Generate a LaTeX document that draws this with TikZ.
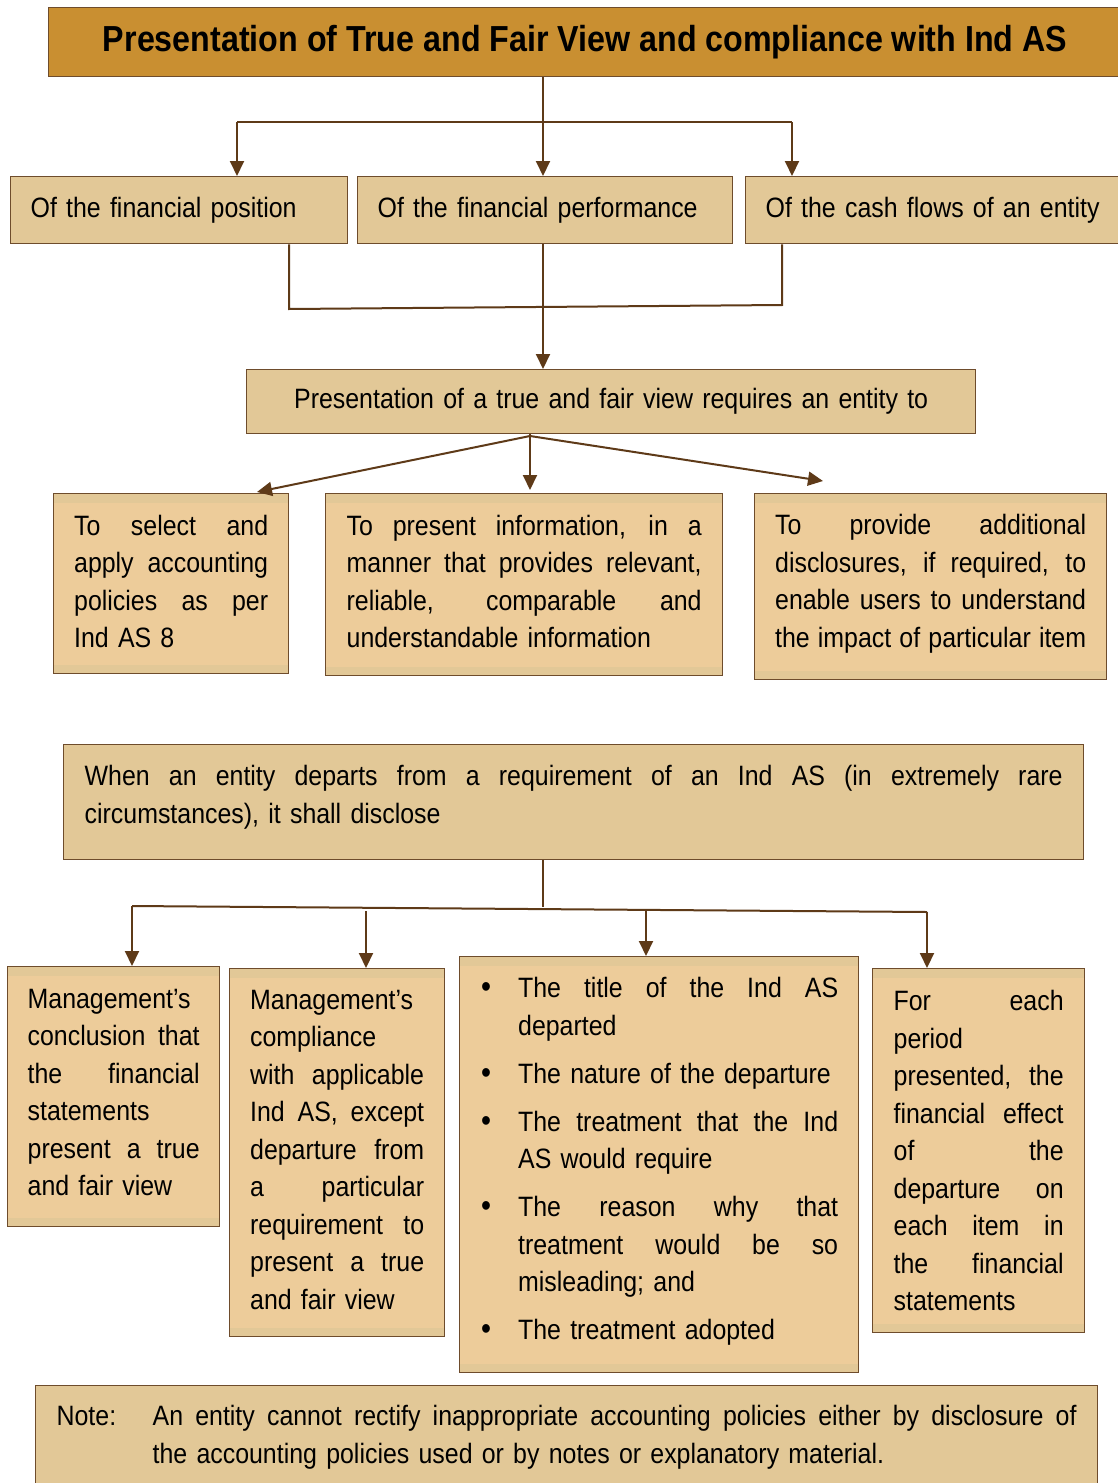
\documentclass[tikz,border=0pt]{standalone}
\usepackage{fontspec}
\setmainfont{Liberation Sans}[FakeStretch=0.89]
\usetikzlibrary{arrows.meta}

\definecolor{titlefill}{HTML}{C98F31}
\definecolor{boxfill}{HTML}{E2C897}
\definecolor{innerfill}{HTML}{EDCC9A}
\definecolor{edgec}{HTML}{6E4C2C}
\definecolor{wirec}{HTML}{5E3A18}

% a block of set lines of the given width; the optional skip lifts the text
\newcommand\textblock[3][0pt]{\vbox{\hsize=#2\relax
  \spaceskip=.33em plus .4em minus .05em\relax #3\vskip#1\relax}}
% justified line, left-set line, centred line, bullet lines, continuation lines
\newcommand\jline[1]{\hbox to \hsize{#1}}
\newcommand\lline[1]{\hbox to \hsize{#1\hfil}}
\newcommand\ctrline[1]{\hbox to \hsize{\hfil#1\hfil}}
\newcommand\bulletmark{\hbox to 38pt{\hskip1pt{\fontsize{32}{32}\selectfont\textbullet}\hfil}}
\newcommand\bjline[1]{\hbox to \hsize{\bulletmark #1}}
\newcommand\blline[1]{\hbox to \hsize{\bulletmark #1\hfil}}
\newcommand\cjline[1]{\hbox to \hsize{\hskip38pt #1}}
\newcommand\clline[1]{\hbox to \hsize{\hskip38pt #1\hfil}}

\tikzset{
  box/.style={draw=edgec, line width=1.3pt, fill=boxfill, inner sep=0pt,
    anchor=north west, font=\fontsize{28}{37.5}\selectfont},
  bandbox/.style={box, fill=innerfill,
    path picture={
      \fill[boxfill] (path picture bounding box.north west) rectangle
        ([yshift=-9pt]path picture bounding box.north east);
      \fill[boxfill] (path picture bounding box.south west) rectangle
        ([yshift=9pt]path picture bounding box.south east);
    }},
  wire/.style={draw=wirec, line width=2pt},
  arrow/.style={wire, -{Triangle[length=15pt,width=14pt]}},
}

\begin{document}
\begin{tikzpicture}[x=1pt, y=-1pt]
\fill[white] (0,0) rectangle (1118,1483);
\useasboundingbox (0,0) rectangle (1118,1483);

% title
\node[box, fill=titlefill, minimum width=1073pt, minimum height=69pt,
      font=\fontsize{36.2}{36}\selectfont\bfseries] (T) at (48,7)
  {Presentation of True and Fair View and compliance with Ind AS};

% first row
\node[box, minimum width=337pt, minimum height=67pt] (A) at (10,176)
  {\textblock{297pt}{\lline{Of the financial position}}};
\node[box, minimum width=375pt, minimum height=67pt] (B) at (357,176)
  {\textblock{335pt}{\lline{Of the financial performance}}};
\node[box, minimum width=376pt, minimum height=67pt] (C) at (745,176)
  {\textblock{336pt}{\lline{Of the cash flows of an entity}}};

\node[box, minimum width=729pt, minimum height=64pt] (D) at (246,369)
  {\textblock{689pt}{\ctrline{Presentation of a true and fair view requires an entity to}}};

% requirements
\node[bandbox, minimum width=235pt, minimum height=180pt] (E1) at (53,493)
  {\textblock[4pt]{194pt}{\jline{To select and}\jline{apply accounting}\jline{policies as per}\lline{Ind AS 8}}};
\node[bandbox, minimum width=397pt, minimum height=182pt] (E2) at (325,493)
  {\textblock[6pt]{355pt}{\jline{To present information, in a}\jline{manner that provides relevant,}\jline{reliable, comparable and}\lline{understandable information}}};
\node[bandbox, minimum width=352pt, minimum height=186pt] (E3) at (754,493)
  {\textblock[6pt]{311pt}{\jline{To provide additional}\jline{disclosures, if required, to}\jline{enable users to understand}\jline{the impact of particular item}}};

% departures
\node[box, minimum width=1020pt, minimum height=115pt] (F) at (63,744)
  {\textblock[10pt]{978pt}{\jline{When an entity departs from a requirement of an Ind AS (in extremely rare}\lline{circumstances), it shall disclose}}};

\node[bandbox, minimum width=212pt, minimum height=260pt] (G1) at (7,966)
  {\textblock[8pt]{172pt}{\lline{Management’s}\jline{conclusion that}\jline{the financial}\lline{statements}\jline{present a true}\lline{and fair view}}};
\node[bandbox, minimum width=215pt, minimum height=368pt] (G2) at (229,968)
  {\textblock[6pt]{174pt}{\lline{Management’s}\lline{compliance}\jline{with applicable}\jline{Ind AS, except}\jline{departure from}\jline{a particular}\jline{requirement to}\jline{present a true}\lline{and fair view}}};
\node[bandbox, minimum width=399pt, minimum height=416pt] (G3) at (459,956)
  {\textblock[6pt]{358pt}{\bjline{The title of the Ind AS}\clline{departed}\vskip10.5pt
   \blline{The nature of the departure}\vskip10.5pt
   \bjline{The treatment that the Ind}\clline{AS would require}\vskip10.5pt
   \bjline{The reason why that}\cjline{treatment would be so}\clline{misleading; and}\vskip10.5pt
   \blline{The treatment adopted}}};
\node[bandbox, minimum width=212pt, minimum height=364pt] (G4) at (872,968)
  {\textblock{170pt}{\jline{For each}\lline{period}\jline{presented, the}\jline{financial effect}\jline{of the}\jline{departure on}\jline{each item in}\jline{the financial}\lline{statements}}};

% note
\node[box, minimum width=1062pt, minimum height=101pt] (N) at (35,1385)
  {\textblock[-2pt]{1020pt}{\jline{\hbox to 96pt{Note:\hfil}An entity cannot rectify inappropriate accounting policies either by disclosure of}%
   \lline{\hskip96pt the accounting policies used or by notes or explanatory material.}}};

% connectors: title to the three aspects
\coordinate (j0) at (543,122);
\coordinate (jl) at (237,122);
\coordinate (jr) at (792,122);
\draw[wire] (T.south -| j0) -- (j0);
\draw[wire] (jl) -- (jr);
\draw[arrow] (jl) -- (A.north -| jl);
\draw[arrow] (j0) -- (B.north -| j0);
\draw[arrow] (jr) -- (C.north -| jr);

% aspects merge into the requirement box
\coordinate (ma) at (289,309);
\coordinate (mc) at (782,305);
\coordinate (mb) at (543,307);
\draw[wire] (A.south -| ma) -- (ma) -- (mc) -- (C.south -| mc);
\draw[arrow] (B.south -| mb) -- (D.north -| mb);

% fan out to the three requirements
\coordinate (dh) at (530,436);
\coordinate (e1t) at (257,492);
\coordinate (e2t) at (530,490);
\coordinate (e3t) at (823,481);
\draw[wire] (D.south -| dh) -- (dh);
\draw[arrow] (dh) -- (e1t);
\draw[arrow] (dh) -- (e2t);
\draw[arrow] (dh) -- (e3t);

% disclosures
\coordinate (fj) at (543,907);
\coordinate (gl) at (132,906);
\coordinate (g2j) at (366,911);
\coordinate (g3j) at (646,911);
\coordinate (gr) at (927,912);
\draw[wire] (F.south -| fj) -- (fj);
\draw[wire] (gl) -- (gr);
\draw[arrow] (gl) -- (G1.north -| gl);
\draw[arrow] (g2j) -- (G2.north -| g2j);
\draw[arrow] (g3j) -- (G3.north -| g3j);
\draw[arrow] (gr) -- (G4.north -| gr);
\end{tikzpicture}
\end{document}
